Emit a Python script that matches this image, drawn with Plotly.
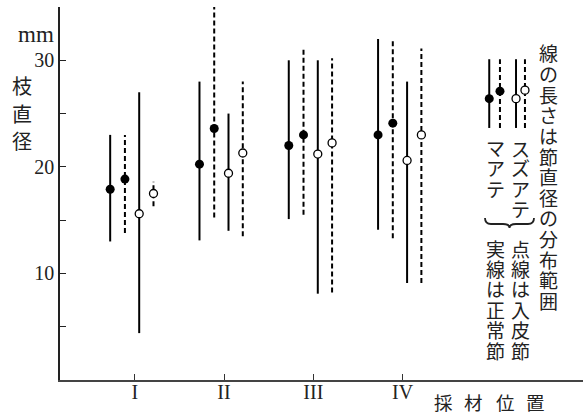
import plotly.graph_objects as go

# ---------------- data ----------------
categories = ["I", "II", "III", "IV"]
cat_pos = [1, 2, 3, 4]

# マアテ 正常節 (solid line, filled marker)
ma_norm_mean = [17.9, 20.25, 22.0, 23.0]
ma_norm_lo = [13.0, 13.1, 15.1, 14.1]
ma_norm_hi = [23.0, 28.0, 30.0, 32.0]
# マアテ 入皮節 (dashed line, filled marker)
ma_inc_mean = [18.85, 23.6, 23.0, 24.1]
ma_inc_lo = [13.8, 15.25, 15.5, 13.3]
ma_inc_hi = [23.0, 35.0, 31.1, 32.0]
# スズアテ 正常節 (solid line, open marker)
su_norm_mean = [15.6, 19.4, 21.2, 20.6]
su_norm_lo = [4.4, 14.0, 8.1, 9.1]
su_norm_hi = [27.0, 25.0, 30.0, 28.0]
# スズアテ 入皮節 (dashed line, open marker)
su_inc_mean = [17.5, 21.3, 22.25, 23.0]
su_inc_lo = [16.3, 13.5, 8.2, 9.1]
su_inc_hi = [18.6, 28.0, 30.2, 31.1]

# legend sample (drawn inside plot on the right)
legend_x = [4.97, 5.09, 5.27, 5.37]
legend_mean = [26.4, 27.1, 26.4, 27.2]
legend_lo = [23.65, 23.65, 23.65, 23.65]
legend_hi = [30.1, 30.1, 30.1, 30.1]

offsets = [-0.275, -0.11, 0.05, 0.21]

series = [
    (ma_norm_mean, ma_norm_lo, ma_norm_hi, "solid", True),
    (ma_inc_mean, ma_inc_lo, ma_inc_hi, "5px,3px", True),
    (su_norm_mean, su_norm_lo, su_norm_hi, "solid", False),
    (su_inc_mean, su_inc_lo, su_inc_hi, "5px,3px", False),
]

SERIF = "Liberation Serif, Noto Sans CJK JP, serif"
CJK = "Noto Sans CJK JP, sans-serif"

fig = go.Figure()


def add_series(xs, mean, lo, hi, dash, filled):
    lx, ly = [], []
    for x, a, b in zip(xs, lo, hi):
        lx += [x, x, None]
        ly += [a, b, None]
    fig.add_trace(go.Scatter(x=lx, y=ly, mode="lines",
                             line=dict(color="black", width=2, dash=dash),
                             hoverinfo="skip", showlegend=False))
    fig.add_trace(go.Scatter(
        x=xs, y=mean, mode="markers", showlegend=False,
        marker=dict(size=9 if filled else 8,
                    color="black" if filled else "white",
                    line=dict(color="black", width=0 if filled else 1.3))))


for k, (mean, lo, hi, dash, filled) in enumerate(series):
    xs = [c + offsets[k] for c in cat_pos]
    add_series(xs, mean, lo, hi, dash, filled)
    # legend sample
    add_series([legend_x[k]], [legend_mean[k]], [legend_lo[k]], [legend_hi[k]], dash, filled)

# ---------------- layout ----------------
L, R, T, B = 60, 4, 7, 36
W, H = 587, 416
PW, PH = W - L - R, H - T - B


def fx(px):
    return (px - L) / PW


def fy(py):
    return (H - B - py) / PH


annotations = []


def put(text, px, py, size=19, family=CJK, xanchor="center"):
    annotations.append(dict(text=text, x=fx(px), y=fy(py), xref="paper", yref="paper",
                            showarrow=False, xanchor=xanchor, yanchor="middle",
                            align="center",
                            font=dict(family=family, size=size, color="#222")))


def column(text, px, py0, pitch, size=19):
    # vertical (tategaki) writing: one character per position
    for i, ch in enumerate(text):
        put(ch, px, py0 + i * pitch, size)


column("線の長さは節直径の分布範囲", 548, 53, 20.6)
column("スズアテ", 520.5, 148, 20)
column("マアテ", 495.5, 147, 20.5)
column("点線は入皮節", 520.5, 248, 20.4)
column("実線は正常節", 495.5, 248, 20.4)

put("mm", 56, 34, size=23, family=SERIF, xanchor="right")
column("枝直径", 22, 85.7, 27.5, size=20)
for ch, px in zip("採材位置", [443, 473, 505, 535]):
    put(ch, px, 402, size=18.5)

# brace under the species names
bx0, bx1, bxm = fx(485), fx(534), fx(509.5)
by_top, by_mid, by_tip = fy(218), fy(224), fy(228)
path = (f"M {bx0},{by_top} Q {bx0},{by_mid} {fx(491)},{by_mid} "
        f"L {fx(503)},{by_mid} Q {bxm},{by_mid} {bxm},{by_tip} "
        f"Q {bxm},{by_mid} {fx(516)},{by_mid} "
        f"L {fx(528)},{by_mid} Q {bx1},{by_mid} {bx1},{by_top}")
shapes = [dict(type="path", path=path, xref="paper", yref="paper",
               line=dict(color="#222", width=1.8))]

fig.update_layout(
    width=W, height=H,
    margin=dict(l=L, r=R, t=T, b=B),
    plot_bgcolor="white", paper_bgcolor="white",
    showlegend=False,
    annotations=annotations,
    shapes=shapes,
    xaxis=dict(range=[0.163, 6.02], showgrid=False, zeroline=False,
               showline=True, linecolor="#444", linewidth=1.5,
               tickmode="array", tickvals=cat_pos, ticktext=categories,
               ticks="inside", ticklen=6, tickcolor="#333", tickwidth=1,
               ticklabelstandoff=-7,
               tickfont=dict(family=SERIF, size=20, color="#222")),
    yaxis=dict(range=[0, 35], showgrid=False, zeroline=False,
               showline=True, linecolor="#222", linewidth=1.5,
               tickmode="array", tickvals=[5, 10, 15, 20, 25, 30],
               ticktext=["", "10", "", "20", "", "30"],
               ticks="inside", ticklen=6, tickcolor="#222", tickwidth=1,
               tickfont=dict(family=SERIF, size=20, color="#222")),
)

fig.write_html("out.html")
